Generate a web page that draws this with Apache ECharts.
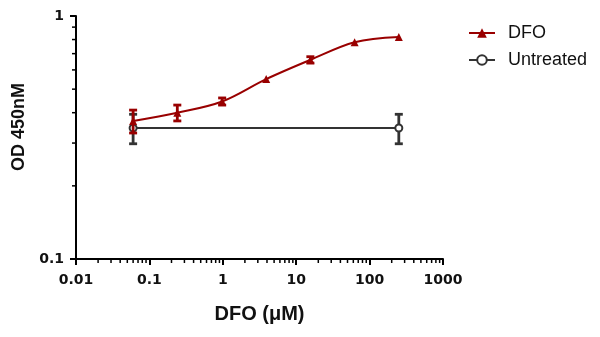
<!DOCTYPE html>
<html><head><meta charset="utf-8">
<script src="https://cdn.jsdelivr.net/npm/echarts@6/dist/echarts.min.js"></script>
<style>html,body{margin:0;padding:0;background:#fff}#c{width:600px;height:337px}</style>
</head><body><div id="c"></div>
<script>
// Data
const doseDFO = [0.06, 0.24, 0.98, 3.9, 15.6, 62.5, 250];
const meanDFO = [0.37, 0.40, 0.445, 0.55, 0.66, 0.78, 0.82];
const errDFO  = [0.04, 0.03, 0.015, 0, 0.02, 0, 0];
const doseUnt = [0.06, 250];
const meanUnt = [0.346, 0.346];
const errUnt  = [0.048, 0.048];
const xTicks = [0.01, 0.1, 1, 10, 100, 1000];
const yTicks = [0.1, 1];
const xTitle = 'DFO (μM)';
const yTitle = 'OD 450nM';

const RED = '#990000', DARK = '#333333';
const FONT = 'Liberation Sans, Arial, sans-serif';
const TICKFONT = 'DejaVu Sans, sans-serif';

// minor tick values (2..9 within each decade)
const minorX = [], minorY = [];
for (let d = 0.01; d < 1000; d *= 10) for (let k = 2; k <= 9; k++) minorX.push(+(d * k).toPrecision(3));
for (let k = 2; k <= 9; k++) minorY.push(+(0.1 * k).toPrecision(3));

function errData(dose, mean, err) {
  return dose.map((d, i) => [d, mean[i] - err[i], mean[i] + err[i]]);
}
function errRender(color) {
  return function (params, api) {
    const x = api.value(0), lo = api.value(1), hi = api.value(2);
    if (hi - lo <= 0) return null;
    const p1 = api.coord([x, lo]), p2 = api.coord([x, hi]);
    const w = 4, st = { stroke: color, lineWidth: 2.8 };
    return { type: 'group', children: [
      { type: 'line', shape: { x1: p1[0], y1: p1[1], x2: p2[0], y2: p2[1] }, style: st },
      { type: 'line', shape: { x1: p1[0] - w, y1: p1[1], x2: p1[0] + w, y2: p1[1] }, style: st },
      { type: 'line', shape: { x1: p2[0] - w, y1: p2[1], x2: p2[0] + w, y2: p2[1] }, style: st }
    ]};
  };
}

const chart = echarts.init(document.getElementById('c'), null, { renderer: 'canvas' });
chart.setOption({
  animation: false,
  backgroundColor: '#fff',
  grid: { left: 76, right: 157, top: 16, bottom: 78, containLabel: false },
  legend: {
    orient: 'vertical', left: 468, top: 24, padding: 0, itemGap: 9, itemWidth: 26, itemHeight: 12,
    textStyle: { fontFamily: FONT, fontSize: 18, color: '#111', lineHeight: 18, padding: [0, 0, 0, 8] },
    data: ['DFO', 'Untreated']
  },
  graphic: [{
    type: 'text', x: 19, y: 127, rotation: Math.PI / 2,
    style: { text: yTitle, font: 'bold 18px ' + FONT, fill: '#111', align: 'center', verticalAlign: 'middle' }
  }],
  xAxis: {
    type: 'log', logBase: 10, min: xTicks[0], max: xTicks[xTicks.length - 1],
    name: xTitle, nameLocation: 'middle', nameGap: 45,
    nameTextStyle: { fontFamily: FONT, fontSize: 20, fontWeight: 'bold', color: '#111' },
    axisLine: { lineStyle: { color: '#000', width: 2 } },
    axisTick: { show: true, length: 6, lineStyle: { color: '#000', width: 2 } },
    axisLabel: { fontFamily: TICKFONT, fontSize: 14, fontWeight: 'bold', color: '#111', margin: 14,
      formatter: v => String(+v.toPrecision(3)) },
    splitLine: { show: false }
  },
  yAxis: {
    type: 'log', logBase: 10, min: yTicks[0], max: yTicks[yTicks.length - 1],
    axisLine: { lineStyle: { color: '#000', width: 2 } },
    axisTick: { show: true, length: 6, lineStyle: { color: '#000', width: 2 } },
    axisLabel: { fontFamily: TICKFONT, fontSize: 14, fontWeight: 'bold', color: '#111', margin: 12,
      formatter: v => String(+v.toPrecision(3)) },
    splitLine: { show: false }
  },
  series: [
    { // minor ticks x
      type: 'custom', silent: true, clip: false, z: 1,
      data: minorX.map(v => [v, yTicks[0]]),
      renderItem: (p, api) => { const c = api.coord([api.value(0), api.value(1)]);
        return { type: 'line', shape: { x1: c[0], y1: c[1], x2: c[0], y2: c[1] + 4 }, style: { stroke: '#000', lineWidth: 1.5 } }; }
    },
    { // minor ticks y
      type: 'custom', silent: true, clip: false, z: 1,
      data: minorY.map(v => [xTicks[0], v]),
      renderItem: (p, api) => { const c = api.coord([api.value(0), api.value(1)]);
        return { type: 'line', shape: { x1: c[0] - 4, y1: c[1], x2: c[0], y2: c[1] }, style: { stroke: '#000', lineWidth: 1.5 } }; }
    },
    {
      name: 'Untreated', type: 'line', z: 3,
      data: doseUnt.map((d, i) => [d, meanUnt[i]]),
      symbol: 'circle', symbolSize: 7,
      itemStyle: { color: '#fff', borderColor: DARK, borderWidth: 2 },
      lineStyle: { color: DARK, width: 2 }
    },
    {
      type: 'custom', z: 2, clip: false,
      data: errData(doseUnt, meanUnt, errUnt), renderItem: errRender(DARK)
    },
    {
      name: 'DFO', type: 'line', z: 4, smooth: 0.35,
      data: doseDFO.map((d, i) => [d, meanDFO[i]]),
      symbol: 'triangle', symbolSize: 8,
      itemStyle: { color: RED },
      lineStyle: { color: RED, width: 2 }
    },
    {
      type: 'custom', z: 4, clip: false,
      data: errData(doseDFO, meanDFO, errDFO), renderItem: errRender(RED)
    }
  ]
});
</script></body></html>
